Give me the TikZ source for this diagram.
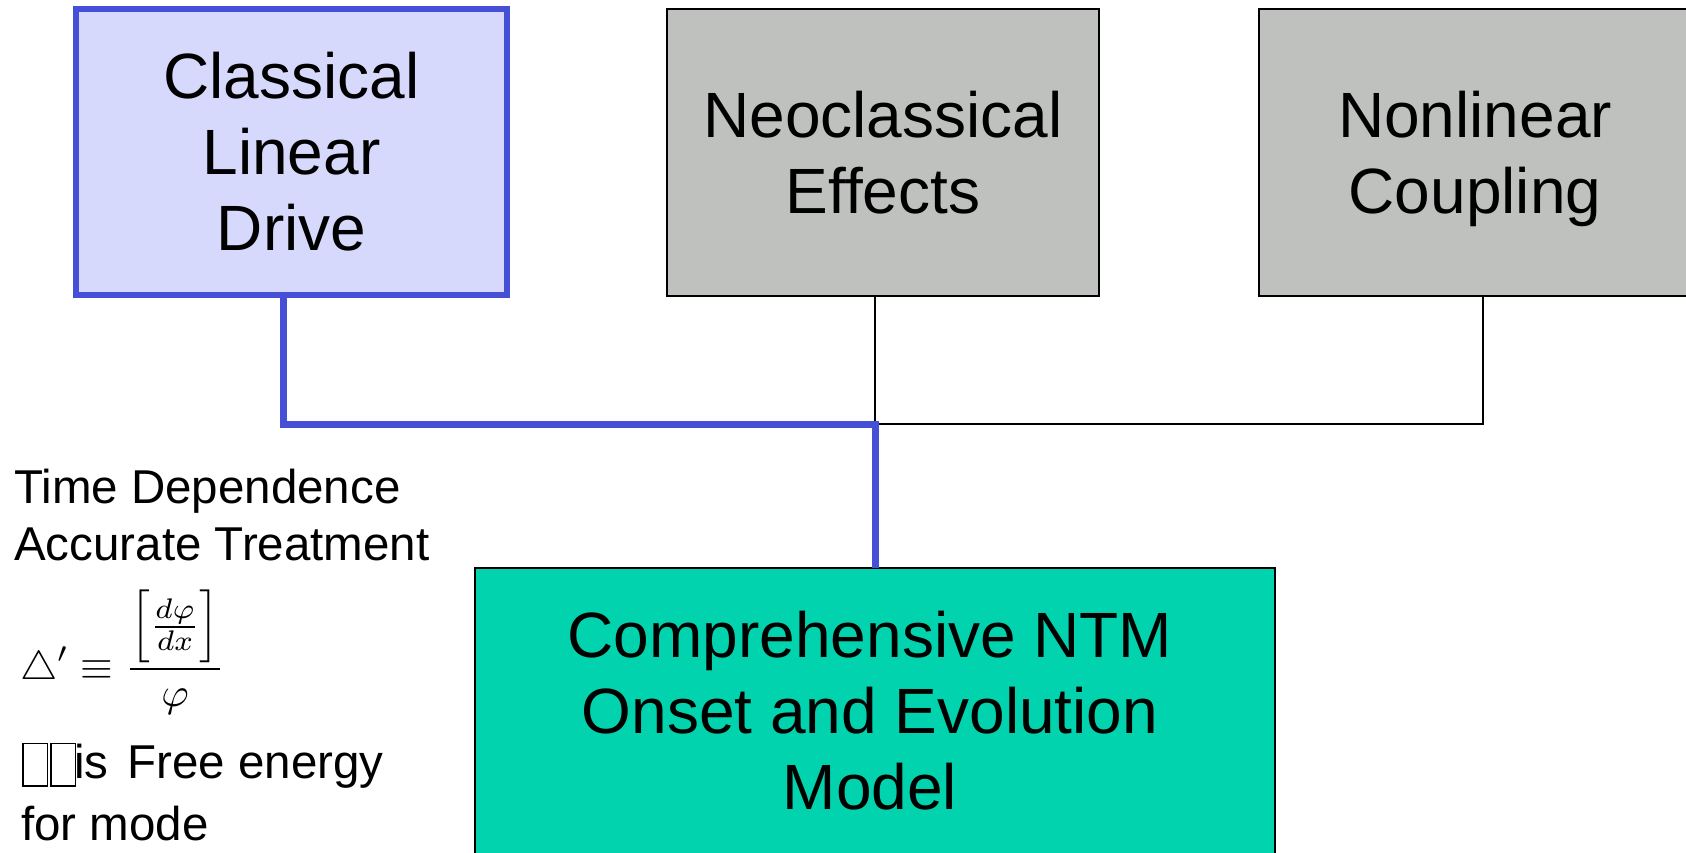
\documentclass[tikz,border=0pt]{standalone}
\usepackage{graphicx}
\usepackage{fontspec}
\setmainfont{Liberation Sans}

\definecolor{driveblue}{RGB}{70,80,215}
\definecolor{drivefill}{RGB}{214,216,252}
\definecolor{effectgray}{RGB}{191,193,191}
\definecolor{modelteal}{RGB}{0,211,173}

\newcommand\boxfont{\fontsize{64}{76}\selectfont}
\newcommand\notefont{\fontsize{47.5}{57}\selectfont}
% empty-glyph boxes printed in front of "is"
\newcommand\tofuglyph{{\setlength\fboxsep{0pt}\setlength\fboxrule{1.6pt}\fbox{\rule[-7.4pt]{0pt}{41pt}\hspace{22.8pt}}}}

\tikzset{
  topbox/.style={minimum width=432pt, minimum height=287pt, inner sep=0pt,
    outer sep=0pt, align=center, font=\boxfont},
  drivebox/.style={topbox, draw=driveblue, line width=6pt, fill=drivefill},
  effectbox/.style={topbox, draw=black, line width=1.5pt, fill=effectgray},
  modelbox/.style={draw=black, line width=1.5pt, fill=modelteal,
    minimum width=800pt, minimum height=320pt, inner sep=0pt, outer sep=0pt},
  modeltext/.style={align=center, font=\boxfont, inner sep=0pt},
  notetext/.style={anchor=base west, inner sep=0pt, font=\notefont},
  driveline/.style={draw=driveblue, line width=7pt},
  effectline/.style={draw=black, line width=1.5pt}
}

\begin{document}
\begin{tikzpicture}[x=1pt,y=-1pt]
\useasboundingbox (0,0) rectangle (1686,852);
\clip (0,0) rectangle (1686,852);

% source boxes
\node[drivebox, minimum width=431pt, minimum height=286pt] (drive) at (291.5,152) {Classical\\Linear\\Drive};
\node[effectbox] (neo) at (883,152.5) {Neoclassical\\Effects};
\node[effectbox] (nonlin) at (1475,152.5) {Nonlinear\\\smash{Coupling}};

% target model
\node[modelbox, anchor=north west] (model) at (475,568) {};
\node[modeltext] (modeltxt) at (870,711) {Comprehensive NTM\\Onset and Evolution\\Model};

% connectors
\draw[effectline] ([xshift=-8pt]neo.south) -- ++(0,128) -| ([xshift=8pt]nonlin.south);
\draw[driveline] ([xshift=-8pt]drive.south) -- ++(0,129) -| (model.north);

% side notes
\node[notetext] (timedep) at (14,503) {Time Dependence};
\node[notetext] (accurate) at (14,560) {Accurate Treatment};
\node[anchor=base west, inner sep=0pt] (deltadef) at (20,679)
  {\scalebox{4.2}[4.05]{\fontsize{10}{12}\selectfont$\displaystyle \triangle' \equiv \frac{\left[\frac{d\varphi}{dx}\right]}{\varphi}$}};
\node[notetext] (freeenergy) at (22,778) {\tofuglyph\hspace{2pt}\tofuglyph\kern-2pt is\hspace{19pt}Free energy};
\node[notetext] (formode) at (21,840) {for mode};
\end{tikzpicture}
\end{document}
